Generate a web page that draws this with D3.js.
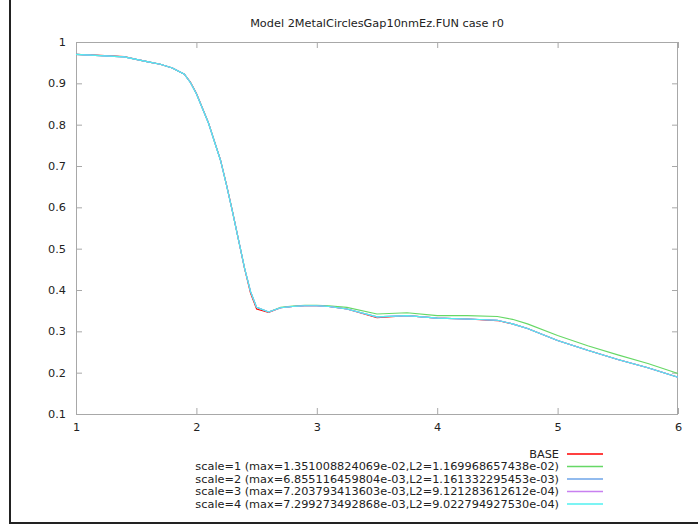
<!DOCTYPE html>
<html>
<head>
<meta charset="utf-8">
<script src="https://cdn.jsdelivr.net/npm/d3@7"></script>
<style>
  body { margin: 0; background: #fff; }
  text { font-family: "DejaVu Sans", sans-serif; }
</style>
</head>
<body>
<div id="chart"></div>
<script>
// data
var titleText = "Model 2MetalCirclesGap10nmEz.FUN case r0"
var xTicks = [1, 2, 3, 4, 5, 6]
var yTicks = [0.1, 0.2, 0.3, 0.4, 0.5, 0.6, 0.7, 0.8, 0.9, 1]

var xs = [1.0, 1.2, 1.4, 1.5, 1.6, 1.7, 1.8, 1.9, 1.95, 2.0, 2.1, 2.2, 2.25, 2.3, 2.4, 2.45, 2.5,
          2.6, 2.7, 2.8, 2.9, 3.0, 3.1, 3.25, 3.5, 3.75, 4.0, 4.25, 4.5, 4.625, 4.75,
          5.0, 5.25, 5.5, 5.75, 6.0]

var base = [0.970, 0.968, 0.965, 0.958, 0.952, 0.946, 0.937, 0.922, 0.903, 0.876, 0.805, 0.715, 0.655, 0.590, 0.452, 0.392, 0.354,
            0.346, 0.357, 0.360, 0.362, 0.362, 0.360, 0.354, 0.333, 0.338, 0.332, 0.330, 0.326, 0.318, 0.307,
            0.278, 0.254, 0.232, 0.212, 0.189]
var scale1 = [0.970, 0.967, 0.964, 0.958, 0.952, 0.946, 0.937, 0.922, 0.902, 0.875, 0.804, 0.714, 0.654, 0.589, 0.453, 0.396, 0.358,
              0.347, 0.358, 0.361, 0.363, 0.363, 0.362, 0.358, 0.342, 0.345, 0.338, 0.338, 0.336, 0.329, 0.318,
              0.290, 0.265, 0.243, 0.222, 0.198]
var scale2 = [0.970, 0.967, 0.964, 0.958, 0.952, 0.946, 0.937, 0.922, 0.902, 0.875, 0.804, 0.714, 0.654, 0.589, 0.453, 0.396, 0.358,
              0.347, 0.357, 0.360, 0.362, 0.362, 0.360, 0.354, 0.335, 0.338, 0.332, 0.330, 0.327, 0.318, 0.307,
              0.278, 0.254, 0.232, 0.212, 0.189]
var scale3 = [0.970, 0.967, 0.964, 0.958, 0.952, 0.946, 0.937, 0.922, 0.902, 0.875, 0.804, 0.714, 0.654, 0.589, 0.453, 0.396, 0.358,
              0.347, 0.357, 0.360, 0.362, 0.362, 0.360, 0.354, 0.335, 0.338, 0.332, 0.330, 0.327, 0.318, 0.307,
              0.278, 0.254, 0.232, 0.212, 0.189]
var scale4 = [0.970, 0.967, 0.964, 0.958, 0.952, 0.946, 0.937, 0.922, 0.902, 0.875, 0.804, 0.714, 0.654, 0.589, 0.453, 0.396, 0.358,
              0.347, 0.357, 0.360, 0.362, 0.362, 0.360, 0.354, 0.335, 0.338, 0.332, 0.330, 0.327, 0.318, 0.307,
              0.278, 0.254, 0.232, 0.212, 0.189]

var seriesNames = [
    "BASE",
    "scale=1 (max=1.351008824069e-02,L2=1.169968657438e-02)",
    "scale=2 (max=6.855116459804e-03,L2=1.161332295453e-03)",
    "scale=3 (max=7.203793413603e-03,L2=9.121283612612e-04)",
    "scale=4 (max=7.299273492868e-03,L2=9.022794927530e-04)"
]
var seriesValues = [base, scale1, scale2, scale3, scale4]
var seriesColors = ["#ff0000", "#66d866", "#6ea4e8", "#c880f0", "#50f0f0"]

var W = 698, H = 526
var margin = { left: 76, right: 20, top: 42, bottom: 112 }
var width = W - margin.left - margin.right,
    height = H - margin.top - margin.bottom

var svg = d3.select("#chart")
    .append("svg")
        .attr("width", W)
        .attr("height", H)

// outer frame (left and bottom edges visible)
svg.append("path")
    .attr("d", "M10,0 L10,523 L698,523")
    .attr("fill", "none")
    .attr("stroke", "#222")
    .attr("stroke-width", 2)

svg.append("text")
    .attr("x", 377)
    .attr("y", 27)
    .attr("text-anchor", "middle")
    .attr("font-size", "11.3px")
    .attr("fill", "#222")
    .text(titleText)

var g = svg.append("g")
    .attr("transform", "translate(" + margin.left + "," + margin.top + ")")

var x = d3.scaleLinear().domain([1, 6]).range([0, width])
var y = d3.scaleLinear().domain([0.1, 1]).range([height, 0])

function styleAxis(sel){
    sel.select(".domain").remove()
    sel.selectAll(".tick line").attr("stroke", "#a8a8a8")
    sel.selectAll(".tick text")
        .attr("fill", "#222")
        .attr("font-size", "11.3px")
        .attr("font-family", "DejaVu Sans, sans-serif")
}

g.append("g")
    .attr("transform", "translate(0," + height + ")")
    .call(d3.axisBottom(x).tickValues(xTicks).tickSizeInner(-6).tickSizeOuter(0).tickPadding(9)
        .tickFormat(d3.format("d")))
    .call(styleAxis)

g.append("g")
    .call(d3.axisLeft(y).tickValues(yTicks).tickSizeInner(-6).tickSizeOuter(0).tickPadding(10)
        .tickFormat(function(d){ return d3.format(".1~f")(d) }))
    .call(styleAxis)

g.append("g")
    .call(d3.axisTop(x).tickValues(xTicks).tickSizeInner(-6).tickSizeOuter(0).tickFormat(""))
    .call(styleAxis)

g.append("g")
    .attr("transform", "translate(" + width + ",0)")
    .call(d3.axisRight(y).tickValues(yTicks).tickSizeInner(-6).tickSizeOuter(0).tickFormat(""))
    .call(styleAxis)

g.append("rect")
    .attr("x", 0.5)
    .attr("y", 0.5)
    .attr("width", width - 1)
    .attr("height", height)
    .attr("fill", "none")
    .attr("stroke", "#a8a8a8")

var line = d3.line()
    .x(function(d){ return x(d[0]) })
    .y(function(d){ return y(d[1]) })

seriesValues.forEach(function(vals, i){
    g.append("path")
        .datum(xs.map(function(v, j){ return [v, vals[j]] }))
        .attr("fill", "none")
        .attr("stroke", seriesColors[i])
        .attr("stroke-width", 1.1)
        .attr("d", line)
})

// legend
var legend = svg.append("g")
seriesNames.forEach(function(name, i){
    var ly = 454 + i * 12.5
    legend.append("text")
        .attr("x", 559)
        .attr("y", ly)
        .attr("dy", "0.35em")
        .attr("text-anchor", "end")
        .attr("font-size", "11.3px")
        .attr("fill", "#222")
        .text(name)
    legend.append("line")
        .attr("x1", 567)
        .attr("x2", 603)
        .attr("y1", ly)
        .attr("y2", ly)
        .attr("stroke", seriesColors[i])
        .attr("stroke-width", 1.5)
})
</script>
</body>
</html>
